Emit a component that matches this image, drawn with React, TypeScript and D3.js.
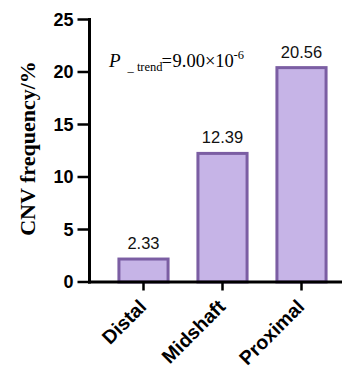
import React from "react";
import * as d3 from "d3";

const categories = ["Distal", "Midshaft", "Proximal"];
const values = [2.33, 12.39, 20.56];
const valueLabels = ["2.33", "12.39", "20.56"];
const yTicks = [0, 5, 10, 15, 20, 25];

export default function App() {
  const W = 342, H = 367;
  const y = d3.scaleLinear().domain([0, 25]).range([282, 19.5]);
  const x = d3.scaleBand<string>().domain(categories).range([104, 341]).paddingInner(0.34).paddingOuter(0.17);
  const axisX = 89.5;
  const base = y(0);
  const serif = "Liberation Serif, Times New Roman";
  const sans = "Liberation Sans, Arial";
  return (
    <svg width={W} height={H} style={{ position: "absolute", left: 0, top: 0 }}>
      {categories.map((c, i) => (
        <g key={c}>
          <rect x={x(c)! + 1.5} y={y(values[i]) + 1.5} width={x.bandwidth() - 3} height={base - y(values[i]) - 1.5}
            fill="#c6b4e7" stroke="#7b5ea3" strokeWidth={3} />
          <text x={x(c)! + x.bandwidth() / 2} y={y(values[i]) - 8.5} textAnchor="middle"
            fontFamily={sans} fontSize={16.5} fill="#111">{valueLabels[i]}</text>
        </g>
      ))}
      <line x1={axisX} x2={axisX} y1={y(25) - 1.5} y2={base + 1.5} stroke="#000" strokeWidth={3} />
      <line x1={axisX - 1.5} x2={342} y1={base} y2={base} stroke="#000" strokeWidth={3} />
      {yTicks.map(t => (
        <g key={t}>
          <line x1={axisX - 12} x2={axisX} y1={y(t)} y2={y(t)} stroke="#000" strokeWidth={2.5} />
          <text x={axisX - 16} y={y(t)} dy="0.36em" textAnchor="end" fontFamily={sans}
            fontWeight="bold" fontSize={18} fill="#000">{t}</text>
        </g>
      ))}
      {categories.map(c => {
        const cx = x(c)! + x.bandwidth() / 2;
        return (
          <g key={c}>
            <line x1={cx} x2={cx} y1={base} y2={base + 8.5} stroke="#000" strokeWidth={2.5} />
            <text transform={`translate(${cx + 4},${base + 26}) rotate(-45)`} textAnchor="end"
              fontFamily={sans} fontWeight="bold" fontSize={19.5} fill="#000">{c}</text>
          </g>
        );
      })}
      <text transform={`translate(35,148.5) rotate(-90)`} textAnchor="middle"
        fontFamily={serif} fontWeight="bold" fontSize={22} fill="#000">CNV frequency/%</text>
      <g fontFamily={serif} fill="#000">
        <text x={109} y={67} fontSize={19} fontStyle="italic">P</text>
        <text x={127.5} y={71} fontSize={12.5}>_ trend</text>
        <text x={161.5} y={67} fontSize={18.5}>=</text>
        <text x={172.5} y={67} fontSize={18.5}>9.00×10</text>
        <text x={233.5} y={59} fontSize={12.5}>-6</text>
      </g>
    </svg>
  );
}
